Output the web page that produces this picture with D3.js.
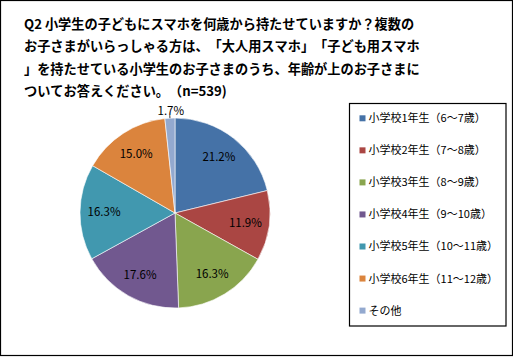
<!DOCTYPE html>
<html><head><meta charset="utf-8">
<script src="https://cdn.jsdelivr.net/npm/d3@7"></script>
<style>
body{margin:0;background:#fff;}
text{font-family:"Noto Sans CJK JP","Noto Sans",sans-serif;text-spacing-trim:space-all;font-kerning:none;}
</style></head>
<body><svg id="c" width="513" height="357"></svg>
<script>
const titleLines = [
  "Q2 小学生の子どもにスマホを何歳から持たせていますか？複数の",
  "お子さまがいらっしゃる方は、「大人用スマホ」「子ども用スマホ",
  "」を持たせている小学生のお子さまのうち、年齢が上のお子さまに",
  "ついてお答えください。（n=539)"
];
const categories = ["小学校1年生（6～7歳）","小学校2年生（7～8歳）","小学校3年生（8～9歳）","小学校4年生（9～10歳）","小学校5年生（10～11歳）","小学校6年生（11～12歳）","その他"];
const values = [21.2, 11.9, 16.3, 17.6, 16.3, 15.0, 1.7];
const colors = ["#4572A7","#AA4643","#89A54E","#71588F","#4198AF","#DB843D","#93A9CF"];

const svg = d3.select("#c");
svg.append("rect").attr("x",0.5).attr("y",0.5).attr("width",512).attr("height",355)
  .attr("fill","#fff").attr("stroke","#000").attr("stroke-width",1.2);

const title = svg.append("text").attr("font-weight","bold").attr("font-size",13.2).attr("fill","#000");
titleLines.forEach((l,i)=>{
  title.append("tspan").attr("x",24).attr("y",29+i*22.4).text(l);
});

const cx=175, cy=213, r=95;
const pie = d3.pie().sort(null).value(d=>d);
const arcs = pie(values);
const arc = d3.arc().innerRadius(0).outerRadius(r);
const labelArc = d3.arc().innerRadius(71).outerRadius(71);
const g = svg.append("g").attr("transform",`translate(${cx},${cy})`);
g.selectAll("path").data(arcs).join("path")
  .attr("d",arc).attr("fill",(d,i)=>colors[i])
  .attr("stroke","#fff").attr("stroke-width",0.6);

g.selectAll("text.lbl").data(arcs.slice(0,6)).join("text").attr("class","lbl")
  .attr("transform",d=>`translate(${labelArc.centroid(d)})`)
  .attr("text-anchor","middle").attr("dy","0.36em")
  .attr("font-size",11.5).attr("fill","#000")
  .text(d=>d.data.toFixed(1)+"%");

// small slice label outside with leader
const last = arcs[6];
const mid = (last.startAngle+last.endAngle)/2;
const p1 = [Math.sin(mid)*r, -Math.cos(mid)*r];
const p2 = [Math.sin(mid)*(r+3), -Math.cos(mid)*(r+3)];
g.append("line").attr("x1",p1[0]).attr("y1",p1[1]).attr("x2",p2[0]).attr("y2",p2[1])
  .attr("stroke","#000").attr("stroke-width",0.8);
g.append("text").attr("x",p2[0]+1).attr("y",p2[1]-0.5)
  .attr("text-anchor","middle").attr("font-size",11.5).attr("fill","#000")
  .text(values[6].toFixed(1)+"%");

// legend
svg.append("rect").attr("x",349.5).attr("y",103.5).attr("width",156.5).attr("height",222.5)
  .attr("fill","#fff").attr("stroke","#000").attr("stroke-width",1.2);
const lg = svg.append("g");
categories.forEach((c,i)=>{
  const y = 118.3 + i*32.05;
  lg.append("rect").attr("x",359.5).attr("y",y-3).attr("width",6).attr("height",6).attr("fill",colors[i]);
  lg.append("text").attr("x",368.5).attr("y",y).attr("dy","0.36em")
    .attr("font-size",11).attr("fill","#000").text(c);
});
</script></body></html>
